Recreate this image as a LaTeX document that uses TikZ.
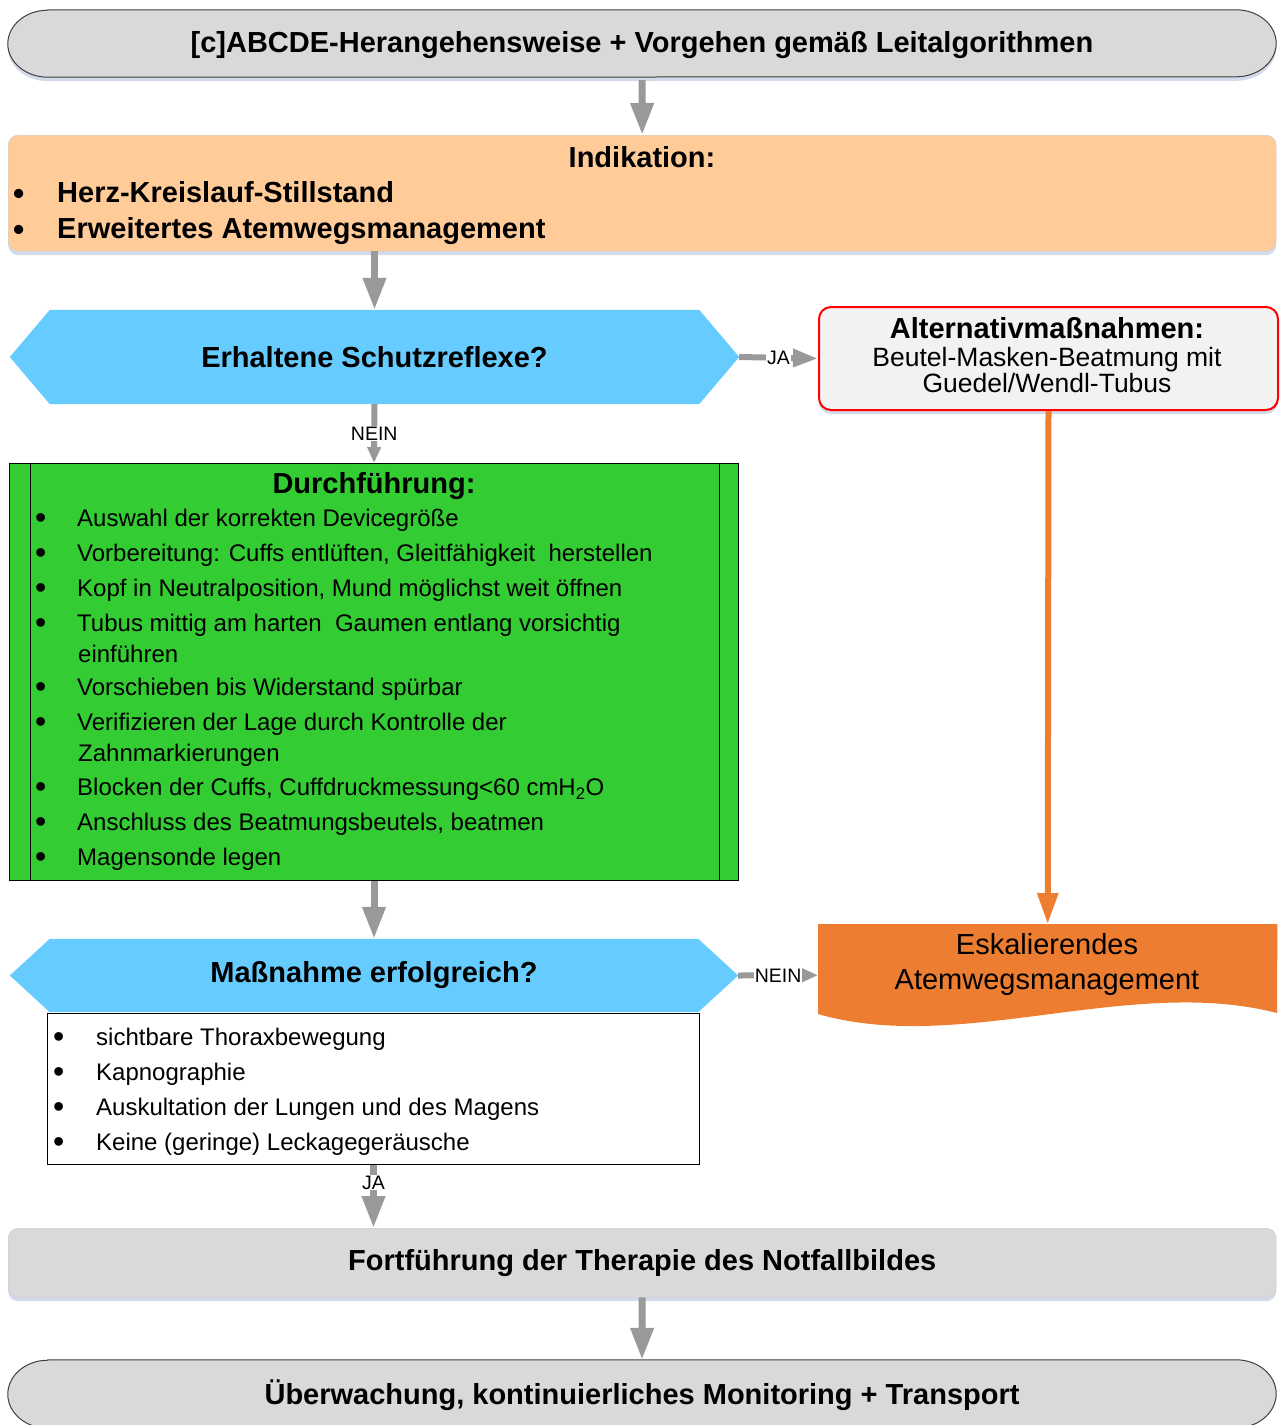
\documentclass[tikz,border=0pt]{standalone}
\usepackage{fontspec}
\setmainfont{Liberation Sans}
\usetikzlibrary{arrows.meta,backgrounds}
\definecolor{boxgray}{HTML}{D9D9D9}
\definecolor{peach}{HTML}{FFCC99}
\definecolor{qblue}{HTML}{66CCFF}
\definecolor{pgreen}{HTML}{33CC33}
\definecolor{altfill}{HTML}{F2F2F2}
\definecolor{escorange}{HTML}{ED7D31}
\definecolor{arrowgray}{HTML}{999999}
\definecolor{shadowc}{HTML}{D3DBEA}
\definecolor{lightborder}{HTML}{C5CCD8}
\definecolor{darkborder}{HTML}{404040}
\newcommand\bigbul{\raisebox{-2.2pt}{\fontsize{32}{32}\selectfont\textbullet}}
\newcommand\itm[2][42pt]{\makebox[#1][l]{\bigbul}#2}
\tikzset{
  txtbold/.style={font=\fontsize{29}{34}\selectfont\bfseries},
  softshadow/.style={preaction={fill=shadowc, transform canvas={yshift=-4pt}}},
  garrow/.style={draw=arrowgray, line width=7pt, -{Triangle[length=32pt,width=22pt]}},
  garrowmid/.style={draw=arrowgray, line width=6pt, -{Triangle[length=25pt,width=17pt]}},
  garrowsmall/.style={draw=arrowgray, line width=6pt, -{Triangle[length=16pt,width=13pt]}},
  oarrow/.style={draw=escorange, line width=6pt, -{Triangle[length=31pt,width=20pt]}},
  lbl/.style={fill=white, inner sep=1pt, text=black, font=\fontsize{19.5}{20}\selectfont},
  listtxt/.style={anchor=base west, align=left, inner sep=0, font=\fontsize{24}{31}\selectfont},
}
\begin{document}
\begin{tikzpicture}[x=1pt,y=-1pt]
\useasboundingbox (0,0) rectangle (1284,1425);

% start terminal
\node[txtbold, minimum width=1268pt, minimum height=67pt, inner sep=0] (start) at (642,45) {[c]ABCDE-Herangehensweise + Vorgehen gemäß Leitalgorithmen};

% Indikation
\node[draw=lightborder, fill=peach, rounded corners=10pt, minimum width=1268pt, minimum height=116pt, anchor=north west, inner sep=0, softshadow] (indik) at (8,135) {};
\node[txtbold, anchor=base] (indtitle) at (642,167) {Indikation:};
\node[txtbold, anchor=base west, align=left, inner sep=0] (indlist) at (13,238) {\itm[44pt]{Herz-Kreislauf-Stillstand}\\[2pt]\itm[44pt]{Erweitertes Atemwegsmanagement}};

% question 1
\node[txtbold, minimum width=729pt, minimum height=94pt, inner sep=0] (q1) at (374.5,357) {Erhaltene Schutzreflexe?};

% Alternativmassnahmen
\node[draw=red, line width=2pt, fill=altfill, rounded corners=12pt, minimum width=459pt, minimum height=103pt, anchor=north west, inner sep=0, softshadow] (alt) at (818,306) {};
\node[txtbold, anchor=base, inner sep=0] (alttitle) at (1047,338) {Alternativmaßnahmen:};
\node[anchor=base, align=center, inner sep=0, font=\fontsize{26.5}{26}\selectfont] (alttext) at (1047,392) {Beutel-Masken-Beatmung mit\\Guedel/Wendl-Tubus};

% Durchfuehrung
\node[draw=black, line width=1pt, fill=pgreen, minimum width=729pt, minimum height=417pt, anchor=north west, inner sep=0] (durch) at (9,463) {};
\draw[line width=1pt] ([xshift=21pt]durch.north west) -- ([xshift=21pt]durch.south west);
\draw[line width=1pt] ([xshift=-20pt]durch.north east) -- ([xshift=-20pt]durch.south east);
\node[txtbold, anchor=base] (durchtitle) at (374,493) {Durchführung:};
\node[listtxt] (durchlist) at (35,865.5) {%
\itm{Auswahl der korrekten Devicegröße}\\[4pt]
\itm{Vorbereitung: Cuffs entlüften, Gleitfähigkeit\ \ herstellen}\\[4pt]
\itm{Kopf in Neutralposition, Mund möglichst weit öffnen}\\[4pt]
\itm{Tubus mittig am harten\ \ Gaumen entlang vorsichtig}\\
\hspace*{43pt}einführen\\[2pt]
\itm{Vorschieben bis Widerstand spürbar}\\[4pt]
\itm{Verifizieren der Lage durch Kontrolle der}\\
\hspace*{43pt}Zahnmarkierungen\\[3pt]
\itm{Blocken der Cuffs, Cuffdruckmessung<60 cmH\textsubscript{2}O}\\[4pt]
\itm{Anschluss des Beatmungsbeutels, beatmen}\\[4pt]
\itm{Magensonde legen}};

% question 2
\node[txtbold, minimum width=728pt, minimum height=73pt, inner sep=0] (q2) at (374,975.5) {Maßnahme erfolgreich?};

% check list
\node[draw=black, line width=1pt, fill=white, minimum width=652pt, minimum height=151pt, anchor=north west, inner sep=0] (check) at (47,1013) {};
\node[listtxt] (checklist) at (53,1150.5) {%
\itm[43pt]{sichtbare Thoraxbewegung}\\[4pt]
\itm[43pt]{Kapnographie}\\[4pt]
\itm[43pt]{Auskultation der Lungen und des Magens}\\[4pt]
\itm[43pt]{Keine (geringe) Leckagegeräusche}};

% Eskalierendes Atemwegsmanagement
\node[minimum width=459pt, minimum height=102pt, anchor=north west, inner sep=0] (eskal) at (818,924) {};
\node[anchor=base, align=center, inner sep=0, font=\fontsize{29}{35}\selectfont] (eskaltext) at (1047,989) {Eskalierendes\\Atemwegsmanagement};

% Fortfuehrung
\node[draw=lightborder, fill=boxgray, rounded corners=10pt, minimum width=1268pt, minimum height=69pt, anchor=north west, inner sep=0, txtbold, softshadow] (fort) at (8,1228) {Fortführung der Therapie des Notfallbildes};

% end terminal
\node[txtbold, minimum width=1268pt, minimum height=68pt, inner sep=0] (end) at (642,1395) {Überwachung, kontinuierliches Monitoring + Transport};

\begin{scope}[on background layer]
\path[fill=boxgray, draw=darkborder, line width=1pt, softshadow]
  ([xshift=40pt,yshift=1.5pt]start.north west) -- ([xshift=-40pt,yshift=1.5pt]start.north east)
  arc[start angle=90, end angle=-90, x radius=40pt, y radius=33.5pt]
  -- ([xshift=40pt,yshift=1.5pt]start.south west)
  arc[start angle=270, end angle=90, x radius=40pt, y radius=33.5pt] -- cycle;
\path[fill=boxgray, draw=darkborder, line width=1pt]
  ([xshift=40pt,yshift=1pt]end.north west) -- ([xshift=-40pt,yshift=1pt]end.north east)
  arc[start angle=90, end angle=-90, x radius=40pt, y radius=34pt]
  -- ([xshift=40pt,yshift=1pt]end.south west)
  arc[start angle=270, end angle=90, x radius=40pt, y radius=34pt] -- cycle;
\fill[qblue] (q1.west) -- ([xshift=40pt]q1.north west) -- ([xshift=-40pt]q1.north east) -- (q1.east) -- ([xshift=-40pt]q1.south east) -- ([xshift=40pt]q1.south west) -- cycle;
\fill[qblue] (q2.west) -- ([xshift=40pt]q2.north west) -- ([xshift=-40pt]q2.north east) -- (q2.east) -- ([xshift=-40pt]q2.south east) -- ([xshift=40pt]q2.south west) -- cycle;
\fill[escorange] (eskal.north west) -- (eskal.north east) -- (1277,1013) .. controls (1130,975) and (960,1055) .. (818,1014) -- cycle;
\end{scope}

% connectors
\draw[garrow] ([yshift=-1.5pt]start.south) -- (indik.north);
\draw[garrow] (q1.north |- indik.south) -- (q1.north);
\draw[garrowmid] (q1.east) -- node[lbl]{JA} (alt.west);
\draw[garrowsmall] (q1.south) -- node[lbl]{NEIN} (durch.north);
\draw[oarrow] (alt.south) -- (eskal.north);
\draw[garrow] (durch.south) -- (q2.north);
\draw[garrowsmall] (q2.east) -- node[lbl]{NEIN} (eskal.west);
\draw[garrow] (check.south) -- node[lbl, pos=0.28]{JA} (check.south |- fort.north);
\draw[garrow] (fort.south) -- ([yshift=1pt]end.north);
\end{tikzpicture}
\end{document}
